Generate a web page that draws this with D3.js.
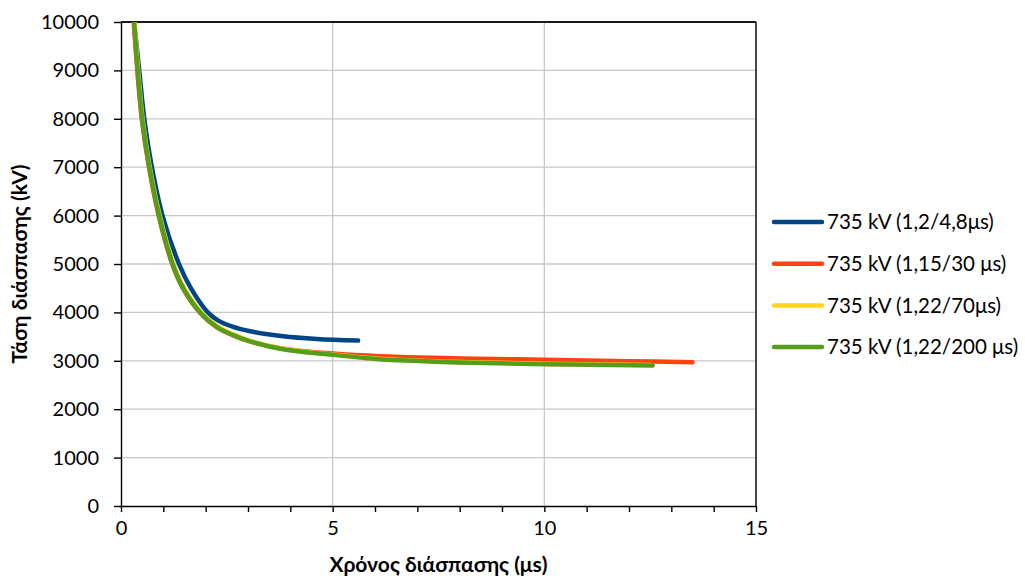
<!DOCTYPE html>
<html lang="el">
<head>
<meta charset="UTF-8">
<title>Τάση διάσπασης</title>
<style>
    body { margin: 0; background: #fff; }
    svg text { font-family: Lato, "Open Sans", sans-serif; fill: #000; }
    .grid line { stroke: #c8c8c8; stroke-width: 1.3; }
    .axis path, .axis line { stroke: #000; stroke-width: 1.4; }
    .series { fill: none; stroke-width: 4.5; stroke-linecap: round; stroke-linejoin: round; }
</style>
</head>
<body>
<svg id="chart" width="1025" height="578"></svg>
<script src="https://d3js.org/d3.v7.min.js"></script>
<script>
// tick values
const xTicks = [0, 5, 10, 15];
const yTicks = [0, 1000, 2000, 3000, 4000, 5000, 6000, 7000, 8000, 9000, 10000];

// series names and colours
const seriesNames = ["735 kV (1,2/4,8μs)", "735 kV (1,15/30 μs)", "735 kV (1,22/70μs)", "735 kV (1,22/200 μs)"];
const seriesColors = ["#004586", "#ff420e", "#ffd320", "#579d1c"];

// breakdown time (μs) / voltage (kV)
const blueT = [0.31, 0.43, 0.55, 0.73, 0.98, 1.37, 1.65, 2.05, 2.3, 2.65, 3.05, 3.83, 4.62, 5.6];
const blueV = [10000, 9000, 8000, 7000, 6000, 5000, 4500, 4000, 3830, 3700, 3610, 3505, 3450, 3418];

const redT = [0.3, 0.385, 0.49, 0.66, 0.89, 1.21, 1.46, 1.86, 2.26, 2.65, 3.05, 3.83, 5.0, 6.6, 8.0, 10.0, 12.0, 13.5];
const redV = [10000, 9000, 8000, 7000, 6000, 5000, 4500, 4000, 3695, 3525, 3400, 3250, 3150, 3078, 3050, 3020, 2992, 2972];

const yellowT = [0.32, 0.405, 0.51, 0.68, 0.915, 1.24, 1.49, 1.9, 2.28, 2.67, 3.05, 3.83, 5.0, 5.8, 6.6, 8.0, 10.0, 12.5];
const yellowV = [10000, 9000, 8000, 7000, 6000, 5000, 4500, 4000, 3710, 3540, 3410, 3248, 3132, 3064, 3018, 2973, 2940, 2913];

const greenT = [0.31, 0.395, 0.5, 0.67, 0.9, 1.22, 1.47, 1.87, 2.26, 2.65, 3.05, 3.83, 5.0, 5.8, 6.6, 8.0, 10.0, 12.56];
const greenV = [10000, 9000, 8000, 7000, 6000, 5000, 4500, 4000, 3702, 3530, 3400, 3240, 3124, 3055, 3010, 2965, 2931, 2903];

const allT = [blueT, redT, yellowT, greenT];
const allV = [blueV, redV, yellowV, greenV];

const margin = { top: 22, left: 121, right: 269, bottom: 72 };
const W = 1025, H = 578;
const pw = W - margin.left - margin.right;
const ph = H - margin.top - margin.bottom;

const svg = d3.select("#chart");
const g = svg.append("g").attr("transform", `translate(${margin.left},${margin.top})`);

const x = d3.scaleLinear().domain([0, 15]).range([0, pw]);
const y = d3.scaleLinear().domain([0, 10000]).range([ph, 0]);

// grid
g.append("g").attr("class", "grid")
    .selectAll("line").data(yTicks.slice(1, -1)).enter().append("line")
    .attr("x1", 0).attr("x2", pw)
    .attr("y1", d => y(d)).attr("y2", d => y(d));
g.append("g").attr("class", "grid")
    .selectAll("line").data(xTicks.slice(1, -1)).enter().append("line")
    .attr("y1", 0).attr("y2", ph)
    .attr("x1", d => x(d)).attr("x2", d => x(d));

// frame top + right
g.append("line").attr("x1", 0).attr("x2", pw).attr("y1", 0).attr("y2", 0)
    .attr("stroke", "#1a1a1a").attr("stroke-width", 2.2);
g.append("line").attr("x1", pw).attr("x2", pw).attr("y1", 0).attr("y2", ph)
    .attr("stroke", "#1a1a1a").attr("stroke-width", 1.6);

// axes
const xAxis = g.append("g").attr("class", "axis")
    .attr("transform", `translate(0,${ph})`)
    .call(d3.axisBottom(x).tickValues(d3.range(0, 16)).tickSize(6).tickSizeOuter(0)
        .tickFormat(d => xTicks.includes(d) ? d : ""));
xAxis.selectAll("text").attr("font-size", 20).attr("y", 15).attr("dy", "0.71em");

const yAxis = g.append("g").attr("class", "axis")
    .call(d3.axisLeft(y).tickValues(yTicks).tickSize(7).tickSizeOuter(0).tickFormat(d3.format("d")));
yAxis.selectAll("text").attr("font-size", 20).attr("dx", "-0.6em");

// lines
svg.append("clipPath").attr("id", "plotclip")
    .append("rect").attr("x", 0).attr("y", 0).attr("width", pw).attr("height", ph);

const line = d3.line()
    .x(d => x(d[0]))
    .y(d => y(d[1]))
    .curve(d3.curveCatmullRom.alpha(0.5));

const lines = g.append("g").attr("clip-path", "url(#plotclip)");
allT.forEach((ts, i) => {
    const pts = ts.map((t, j) => [t, allV[i][j]]);
    lines.append("path")
        .datum(pts)
        .attr("class", "series")
        .attr("stroke", seriesColors[i])
        .attr("d", line);
});

// axis titles
svg.append("text")
    .attr("x", margin.left + pw / 2).attr("y", 572)
    .attr("text-anchor", "middle")
    .attr("font-size", 21).attr("font-weight", "bold")
    .text("Χρόνος διάσπασης (μs)");

svg.append("text")
    .attr("transform", `translate(27,${margin.top + ph / 2}) rotate(-90)`)
    .attr("text-anchor", "middle")
    .attr("font-size", 21).attr("font-weight", "bold")
    .text("Τάση διάσπασης (kV)");

// legend
const legend = svg.append("g").attr("transform", "translate(774,222)");
seriesNames.forEach((name, i) => {
    const row = legend.append("g").attr("transform", `translate(0,${i * 41.7})`);
    row.append("line")
        .attr("x1", 0).attr("x2", 48).attr("y1", 0).attr("y2", 0)
        .attr("stroke", seriesColors[i]).attr("stroke-width", 4.5)
        .attr("stroke-linecap", "round");
    row.append("text")
        .attr("x", 53).attr("y", 0).attr("dy", "0.35em")
        .attr("font-size", 20.5)
        .text(name);
});
</script>
</body>
</html>
